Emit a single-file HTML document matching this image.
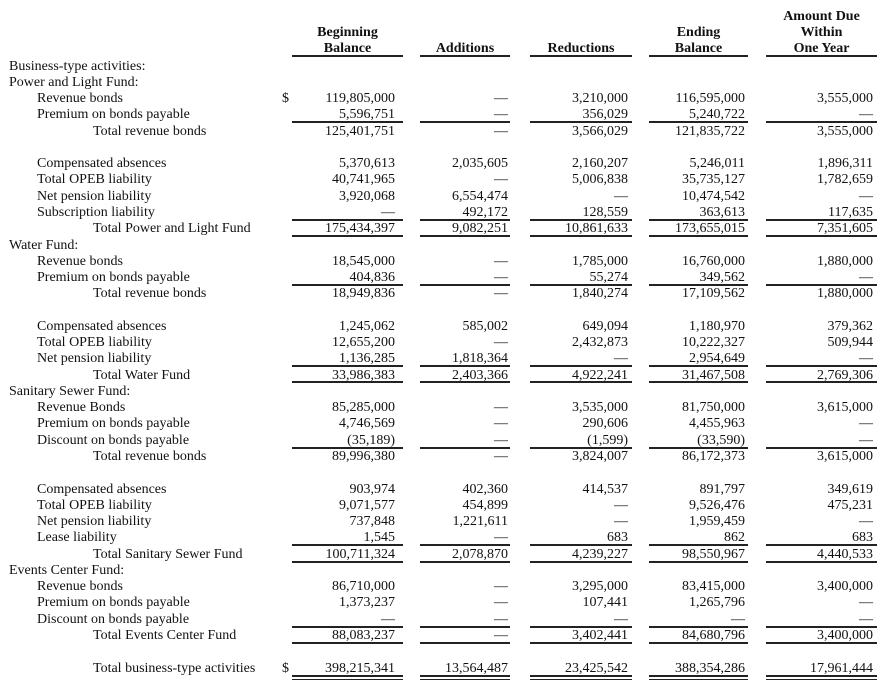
<!DOCTYPE html>
<html><head><meta charset="utf-8"><style>
html,body{margin:0;padding:0;background:#fff}
body{width:889px;height:689px;position:relative;overflow:hidden;font-family:"Liberation Serif",serif;font-size:14px;color:#111}
.r{position:absolute;left:0;width:889px;height:16px;line-height:16px;margin-top:1.5px}
.r span{position:absolute;white-space:nowrap}
.a{left:9px}.b{left:37px}.t{left:93px}
.c1,.c2,.c3,.c4,.c5{text-align:right;width:120px}
.c1{left:275px}.c2{left:388px}.c3{left:508px}.c4{left:625px}.c5{left:753px}
.d{padding-right:3px}
.h{position:absolute;font-weight:bold;text-align:center;line-height:16px;font-size:14px;margin-top:2px}
.ln{position:absolute;height:1.6px;background:#222}
.s1{left:292px;width:111px}.s2{left:420px;width:90px}.s3{left:530px;width:102px}.s4{left:649px;width:99px}.s5{left:766px;width:111px}
</style></head><body>
<div class="h" style="left:292px;width:111px;top:23px">Beginning<br>Balance</div>
<div class="h" style="left:420px;width:90px;top:39px">Additions</div>
<div class="h" style="left:530px;width:102px;top:39px">Reductions</div>
<div class="h" style="left:649px;width:99px;top:23px">Ending<br>Balance</div>
<div class="h" style="left:766px;width:111px;top:7px">Amount Due<br>Within<br>One Year</div>

<div class="r" style="top:57px"><span class="a">Business-type activities:</span></div>
<div class="r" style="top:73.3px"><span class="a">Power and Light Fund:</span></div>
<div class="r" style="top:89.5px"><span class="b">Revenue bonds</span><span style="left:282px">$</span><span class="c1">119,805,000</span><span class="c2 d">—</span><span class="c3">3,210,000</span><span class="c4">116,595,000</span><span class="c5">3,555,000</span></div>
<div class="r" style="top:105.8px"><span class="b">Premium on bonds payable</span><span class="c1">5,596,751</span><span class="c2 d">—</span><span class="c3">356,029</span><span class="c4">5,240,722</span><span class="c5 d">—</span></div>
<div class="r" style="top:122.1px"><span class="t">Total revenue bonds</span><span class="c1">125,401,751</span><span class="c2 d">—</span><span class="c3">3,566,029</span><span class="c4">121,835,722</span><span class="c5">3,555,000</span></div>
<div class="r" style="top:154.6px"><span class="b">Compensated absences</span><span class="c1">5,370,613</span><span class="c2">2,035,605</span><span class="c3">2,160,207</span><span class="c4">5,246,011</span><span class="c5">1,896,311</span></div>
<div class="r" style="top:170.9px"><span class="b">Total OPEB liability</span><span class="c1">40,741,965</span><span class="c2 d">—</span><span class="c3">5,006,838</span><span class="c4">35,735,127</span><span class="c5">1,782,659</span></div>
<div class="r" style="top:187.2px"><span class="b">Net pension liability</span><span class="c1">3,920,068</span><span class="c2">6,554,474</span><span class="c3 d">—</span><span class="c4">10,474,542</span><span class="c5 d">—</span></div>
<div class="r" style="top:203.4px"><span class="b">Subscription liability</span><span class="c1 d">—</span><span class="c2">492,172</span><span class="c3">128,559</span><span class="c4">363,613</span><span class="c5">117,635</span></div>
<div class="r" style="top:219.7px"><span class="t">Total Power and Light Fund</span><span class="c1">175,434,397</span><span class="c2">9,082,251</span><span class="c3">10,861,633</span><span class="c4">173,655,015</span><span class="c5">7,351,605</span></div>
<div class="r" style="top:236px"><span class="a">Water Fund:</span></div>
<div class="r" style="top:252.2px"><span class="b">Revenue bonds</span><span class="c1">18,545,000</span><span class="c2 d">—</span><span class="c3">1,785,000</span><span class="c4">16,760,000</span><span class="c5">1,880,000</span></div>
<div class="r" style="top:268.5px"><span class="b">Premium on bonds payable</span><span class="c1">404,836</span><span class="c2 d">—</span><span class="c3">55,274</span><span class="c4">349,562</span><span class="c5 d">—</span></div>
<div class="r" style="top:284.8px"><span class="t">Total revenue bonds</span><span class="c1">18,949,836</span><span class="c2 d">—</span><span class="c3">1,840,274</span><span class="c4">17,109,562</span><span class="c5">1,880,000</span></div>
<div class="r" style="top:317.3px"><span class="b">Compensated absences</span><span class="c1">1,245,062</span><span class="c2">585,002</span><span class="c3">649,094</span><span class="c4">1,180,970</span><span class="c5">379,362</span></div>
<div class="r" style="top:333.6px"><span class="b">Total OPEB liability</span><span class="c1">12,655,200</span><span class="c2 d">—</span><span class="c3">2,432,873</span><span class="c4">10,222,327</span><span class="c5">509,944</span></div>
<div class="r" style="top:349.9px"><span class="b">Net pension liability</span><span class="c1">1,136,285</span><span class="c2">1,818,364</span><span class="c3 d">—</span><span class="c4">2,954,649</span><span class="c5 d">—</span></div>
<div class="r" style="top:366.1px"><span class="t">Total Water Fund</span><span class="c1">33,986,383</span><span class="c2">2,403,366</span><span class="c3">4,922,241</span><span class="c4">31,467,508</span><span class="c5">2,769,306</span></div>
<div class="r" style="top:382.4px"><span class="a">Sanitary Sewer Fund:</span></div>
<div class="r" style="top:398.7px"><span class="b">Revenue Bonds</span><span class="c1">85,285,000</span><span class="c2 d">—</span><span class="c3">3,535,000</span><span class="c4">81,750,000</span><span class="c5">3,615,000</span></div>
<div class="r" style="top:414.9px"><span class="b">Premium on bonds payable</span><span class="c1">4,746,569</span><span class="c2 d">—</span><span class="c3">290,606</span><span class="c4">4,455,963</span><span class="c5 d">—</span></div>
<div class="r" style="top:431.2px"><span class="b">Discount on bonds payable</span><span class="c1">(35,189)</span><span class="c2 d">—</span><span class="c3">(1,599)</span><span class="c4">(33,590)</span><span class="c5 d">—</span></div>
<div class="r" style="top:447.5px"><span class="t">Total revenue bonds</span><span class="c1">89,996,380</span><span class="c2 d">—</span><span class="c3">3,824,007</span><span class="c4">86,172,373</span><span class="c5">3,615,000</span></div>
<div class="r" style="top:480px"><span class="b">Compensated absences</span><span class="c1">903,974</span><span class="c2">402,360</span><span class="c3">414,537</span><span class="c4">891,797</span><span class="c5">349,619</span></div>
<div class="r" style="top:496.3px"><span class="b">Total OPEB liability</span><span class="c1">9,071,577</span><span class="c2">454,899</span><span class="c3 d">—</span><span class="c4">9,526,476</span><span class="c5">475,231</span></div>
<div class="r" style="top:512.6px"><span class="b">Net pension liability</span><span class="c1">737,848</span><span class="c2">1,221,611</span><span class="c3 d">—</span><span class="c4">1,959,459</span><span class="c5 d">—</span></div>
<div class="r" style="top:528.8px"><span class="b">Lease liability</span><span class="c1">1,545</span><span class="c2 d">—</span><span class="c3">683</span><span class="c4">862</span><span class="c5">683</span></div>
<div class="r" style="top:545.1px"><span class="t">Total Sanitary Sewer Fund</span><span class="c1">100,711,324</span><span class="c2">2,078,870</span><span class="c3">4,239,227</span><span class="c4">98,550,967</span><span class="c5">4,440,533</span></div>
<div class="r" style="top:561.4px"><span class="a">Events Center Fund:</span></div>
<div class="r" style="top:577.6px"><span class="b">Revenue bonds</span><span class="c1">86,710,000</span><span class="c2 d">—</span><span class="c3">3,295,000</span><span class="c4">83,415,000</span><span class="c5">3,400,000</span></div>
<div class="r" style="top:593.9px"><span class="b">Premium on bonds payable</span><span class="c1">1,373,237</span><span class="c2 d">—</span><span class="c3">107,441</span><span class="c4">1,265,796</span><span class="c5 d">—</span></div>
<div class="r" style="top:610.2px"><span class="b">Discount on bonds payable</span><span class="c1 d">—</span><span class="c2 d">—</span><span class="c3 d">—</span><span class="c4 d">—</span><span class="c5 d">—</span></div>
<div class="r" style="top:626.5px"><span class="t">Total Events Center Fund</span><span class="c1">88,083,237</span><span class="c2 d">—</span><span class="c3">3,402,441</span><span class="c4">84,680,796</span><span class="c5">3,400,000</span></div>
<div class="r" style="top:659px"><span class="t">Total business-type activities</span><span style="left:282px">$</span><span class="c1">398,215,341</span><span class="c2">13,564,487</span><span class="c3">23,425,542</span><span class="c4">388,354,286</span><span class="c5">17,961,444</span></div>

<div class="ln s1" style="top:55px"></div><div class="ln s2" style="top:55px"></div><div class="ln s3" style="top:55px"></div><div class="ln s4" style="top:55px"></div><div class="ln s5" style="top:55px"></div>
<div class="ln s1" style="top:121px"></div><div class="ln s2" style="top:121px"></div><div class="ln s3" style="top:121px"></div><div class="ln s4" style="top:121px"></div><div class="ln s5" style="top:121px"></div>
<div class="ln s1" style="top:219px"></div><div class="ln s2" style="top:219px"></div><div class="ln s3" style="top:219px"></div><div class="ln s4" style="top:219px"></div><div class="ln s5" style="top:219px"></div>
<div class="ln s1" style="top:235px"></div><div class="ln s2" style="top:235px"></div><div class="ln s3" style="top:235px"></div><div class="ln s4" style="top:235px"></div><div class="ln s5" style="top:235px"></div>
<div class="ln s1" style="top:284px"></div><div class="ln s2" style="top:284px"></div><div class="ln s3" style="top:284px"></div><div class="ln s4" style="top:284px"></div><div class="ln s5" style="top:284px"></div>
<div class="ln s1" style="top:365px"></div><div class="ln s2" style="top:365px"></div><div class="ln s3" style="top:365px"></div><div class="ln s4" style="top:365px"></div><div class="ln s5" style="top:365px"></div>
<div class="ln s1" style="top:381px"></div><div class="ln s2" style="top:381px"></div><div class="ln s3" style="top:381px"></div><div class="ln s4" style="top:381px"></div><div class="ln s5" style="top:381px"></div>
<div class="ln s1" style="top:447px"></div><div class="ln s2" style="top:447px"></div><div class="ln s3" style="top:447px"></div><div class="ln s4" style="top:447px"></div><div class="ln s5" style="top:447px"></div>
<div class="ln s1" style="top:544px"></div><div class="ln s2" style="top:544px"></div><div class="ln s3" style="top:544px"></div><div class="ln s4" style="top:544px"></div><div class="ln s5" style="top:544px"></div>
<div class="ln s1" style="top:561px"></div><div class="ln s2" style="top:561px"></div><div class="ln s3" style="top:561px"></div><div class="ln s4" style="top:561px"></div><div class="ln s5" style="top:561px"></div>
<div class="ln s1" style="top:626px"></div><div class="ln s2" style="top:626px"></div><div class="ln s3" style="top:626px"></div><div class="ln s4" style="top:626px"></div><div class="ln s5" style="top:626px"></div>
<div class="ln s1" style="top:642px"></div><div class="ln s2" style="top:642px"></div><div class="ln s3" style="top:642px"></div><div class="ln s4" style="top:642px"></div><div class="ln s5" style="top:642px"></div>
<div class="ln s1" style="top:675px"></div><div class="ln s2" style="top:675px"></div><div class="ln s3" style="top:675px"></div><div class="ln s4" style="top:675px"></div><div class="ln s5" style="top:675px"></div>
<div class="ln s1" style="top:678.5px"></div><div class="ln s2" style="top:678.5px"></div><div class="ln s3" style="top:678.5px"></div><div class="ln s4" style="top:678.5px"></div><div class="ln s5" style="top:678.5px"></div>
</body></html>
